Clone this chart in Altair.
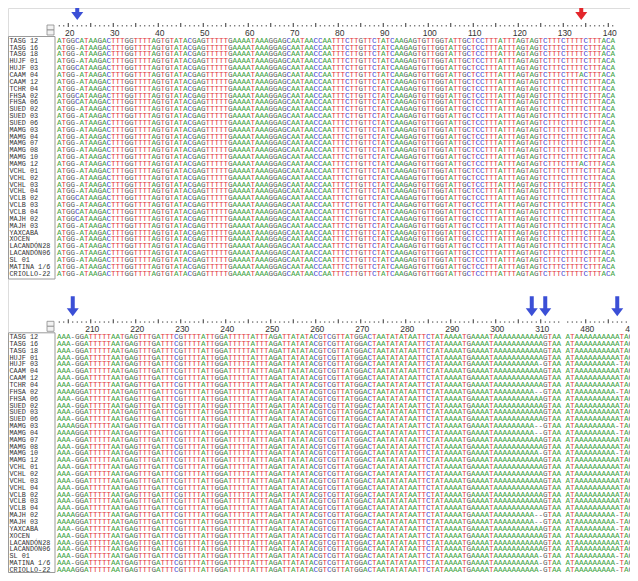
import altair as alt
import pandas as pd

# ---------------- data ----------------
names = ["TASG 12", "TASG 16", "TASG 18", "HUJF 01", "HUJF 03", "CAAM 04", "CAAM 12",
         "TCHR 04", "FHSA 02", "FHSA 06", "SUED 02", "SUED 03", "SUED 06", "MAMG 03",
         "MAMG 04", "MAMG 07", "MAMG 08", "MAMG 10", "MAMG 12", "VCHL 01", "VCHL 02",
         "VCHL 03", "VCHL 04", "VCLB 02", "VCLB 03", "VCLB 04", "MAJH 02", "MAJH 03",
         "YAXCABÁ", "XOCEN", "LACANDÓN28", "LACANDÓN06", "SL 01", "MATINA 1/6", "CRIOLLO-22"]

# top block: alignment columns 18..141
top_first = 18
top_consensus = ("ATGGCATAAGACTTTGGTTTTAGTGTATACGAGTTTTTGAAAATAAAGGAGCAATAACCAATTTCTT"
                 "GTTCTATCAAGAGTGTTGGTATTGCTCCTTTATTTAGTAGTCTTTCTTTTCTTTACA")
top_c_at_22 = ["TASG 12", "HUJF 03", "FHSA 02", "FHSA 06", "VCLB 02", "VCLB 04", "MAJH 02"]
top_a_at_134 = ["CAAM 04", "MAMG 12"]
top_arrows = [22, 134]
top_arrow_colors = ["#3b4fd6", "#e3262b"]

# bottom block: columns 203..314, then 476..491
bot_first1 = 203
bot_seg1 = ("AAA-GGATTTTTAATGAGTTTGATTTCGTTTTATTG"
            "GATTTTTATTTAGATTATATACGTCGTTATGGACTAATATATAATTCTATAAAATGAAAATAAAAAAAAAAAGTAA")
bot_first2 = 476
bot_seg2 = "ATAAAAAAAAAATAGT"
bot_a_at_206 = ["FHSA 02", "MAMG 03", "MAMG 04", "MAJH 02", "MAJH 03", "CRIOLLO-22"]
bot_gap_310 = ["HUJF 03", "MAMG 10", "SL 01", "MATINA 1/6", "CRIOLLO-22"]
bot_gap_309_310 = ["FHSA 02", "MAMG 03", "MAMG 04", "MAJH 02", "MAJH 03"]
bot_gap_487 = ["HUJF 03", "FHSA 02", "MAMG 03", "MAMG 04", "MAMG 10", "MAJH 02",
               "MAJH 03", "YAXCABÁ", "SL 01", "MATINA 1/6", "CRIOLLO-22"]
bot_arrows = [206, 308, 311, 487]
bot_arrow_colors = ["#3b4fd6"] * 4

base_colors = {"A": "#41a33f", "C": "#3c3ccf", "G": "#5b5b5b", "T": "#e2363a", "-": "#6a6a6a"}

# ---------------- layout constants ----------------
W, H = 622, 565
CW = 4.5          # width of one alignment column (px)
X_LEFT = 49.0     # left edge of first column (px)
Y0 = 32.7         # centre of first sequence row (px)
RH = 6.85         # row pitch (px)
SHIFT = 296.3     # vertical shift of the second block (px)
LINE_OFF = SHIFT / RH
ARROW = "M-0.2,-1L0.2,-1L0.2,0.2L0.6,0.2L0,1L-0.6,0.2L-0.2,0.2Z"
FONT_SEQ = "Liberation Mono"

# ---------------- build tables ----------------
seq_rows = []
for r, nm in enumerate(names):
    for j, ch in enumerate(top_consensus):
        pos = top_first + j
        if pos == 22:
            ch = "C" if nm in top_c_at_22 else "-"
        if pos == 134:
            ch = "A" if nm in top_a_at_134 else "T"
        seq_rows.append({"line": r, "idx": j, "ch": ch})
    for j, ch in enumerate(bot_seg1):
        pos = bot_first1 + j
        if pos == 206:
            ch = "A" if nm in bot_a_at_206 else "-"
        if pos == 310 and (nm in bot_gap_310 or nm in bot_gap_309_310):
            ch = "-"
        if pos == 309 and nm in bot_gap_309_310:
            ch = "-"
        seq_rows.append({"line": r + LINE_OFF, "idx": j, "ch": ch})
    off = len(bot_seg1) + 1
    for j, ch in enumerate(bot_seg2):
        pos = bot_first2 + j
        if pos == 487 and nm in bot_gap_487:
            ch = "-"
        seq_rows.append({"line": r + LINE_OFF, "idx": off + j, "ch": ch})
seq_df = pd.DataFrame(seq_rows)

names_df = pd.DataFrame({"line": [r for r in range(len(names))] +
                         [r + LINE_OFF for r in range(len(names))],
                         "name": names + names})


def ruler_table(first, count, idx_offset):
    recs = []
    for k in range(count):
        p = first + k
        recs.append({"idx": idx_offset + k, "pos": p, "major": p % 5 == 0,
                     "label": str(p) if p % 10 == 0 else ""})
    return recs


top_ruler = pd.DataFrame(ruler_table(top_first, len(top_consensus), 0))
bot_ruler = pd.DataFrame(ruler_table(bot_first1, len(bot_seg1), 0)
                         + ruler_table(bot_first2, len(bot_seg2), len(bot_seg1) + 1))


def arrow_table(positions, colors, first_list):
    recs = []
    for p, c in zip(positions, colors):
        idx = None
        for first, off, n in first_list:
            if first <= p < first + n:
                idx = off + p - first
        recs.append({"idx": idx, "color": c})
    return pd.DataFrame(recs)


top_arrow_df = arrow_table(top_arrows, top_arrow_colors, [(top_first, 0, len(top_consensus))])
bot_arrow_df = arrow_table(bot_arrows, bot_arrow_colors,
                           [(bot_first1, 0, len(bot_seg1)),
                            (bot_first2, len(bot_seg1) + 1, len(bot_seg2))])

# ---------------- scales / encodings ----------------
X = alt.X("idx:Q", axis=None,
          scale=alt.Scale(domain=[-(X_LEFT + CW / 2) / CW, (W - X_LEFT - CW / 2) / CW],
                          range=[0, W]))
Y = alt.Y("line:Q", axis=None,
          scale=alt.Scale(domain=[-Y0 / RH, (H - Y0) / RH], range=[0, H]))
seq_colors = alt.Scale(domain=list(base_colors.keys()), range=list(base_colors.values()))
one = pd.DataFrame({"k": [0]})


def block_frame(ruler_df, arrow_df, dy, box_bottom):
    """Ruler, arrows, name box and scroll widget of one block, dy = vertical shift."""
    box = alt.Chart(one).mark_rect(fill="white", stroke="#9a9a9a", strokeWidth=1).encode(
        x=alt.value(0.5), x2=alt.value(47), y=alt.value(28.5 + dy), y2=alt.value(box_bottom))
    w1 = alt.Chart(one).mark_rect(fill="#f2f2f2", stroke="#8a8a8a", strokeWidth=0.8).encode(
        x=alt.value(39), x2=alt.value(46), y=alt.value(17 + dy), y2=alt.value(22 + dy))
    w2 = alt.Chart(one).mark_rect(fill="#f2f2f2", stroke="#8a8a8a", strokeWidth=0.8).encode(
        x=alt.value(39), x2=alt.value(46), y=alt.value(22 + dy), y2=alt.value(27 + dy))
    minor = alt.Chart(ruler_df).transform_filter("!datum.major").mark_rule(
        color="#555", strokeWidth=1).encode(x=X, y=alt.value(17 + dy), y2=alt.value(18.5 + dy))
    major = alt.Chart(ruler_df).transform_filter("datum.major").mark_rule(
        color="#333", strokeWidth=1).encode(x=X, y=alt.value(15 + dy), y2=alt.value(19 + dy))
    labels = alt.Chart(ruler_df).transform_filter("datum.label != ''").mark_text(
        font="Liberation Sans", fontSize=8.5, color="#333", align="center", baseline="middle",
        dx=1.5).encode(x=X, y=alt.value(24.5 + dy), text="label:N")
    arrows = alt.Chart(arrow_df).mark_point(shape=ARROW, filled=True, size=400, opacity=1,
                                             strokeWidth=0).encode(
        x=X, y=alt.value(2 + dy), color=alt.Color("color:N", scale=None))
    return [box, w1, w2, minor, major, labels, arrows]


names_layer = alt.Chart(names_df).mark_text(
    font=FONT_SEQ, fontSize=6.8, color="#333", align="left", baseline="middle").encode(
    x=alt.value(1.5), y=Y, text="name:N")
seq_layer = alt.Chart(seq_df).mark_text(
    font=FONT_SEQ, fontSize=7.6, align="center", baseline="middle").encode(
    x=X, y=Y, text="ch:N", color=alt.Color("ch:N", scale=seq_colors, legend=None))

layers = (block_frame(top_ruler, top_arrow_df, 0, 271)
          + block_frame(bot_ruler, bot_arrow_df, SHIFT, H - 0.5)
          + [names_layer, seq_layer])

chart = alt.layer(*layers).properties(
    width=W, height=H, padding=0, autosize=alt.AutoSizeParams(type="none")
).configure_view(stroke="transparent", strokeWidth=0).configure(background="white")

chart.save("out.html", embed_options={"renderer": "svg", "actions": False})
